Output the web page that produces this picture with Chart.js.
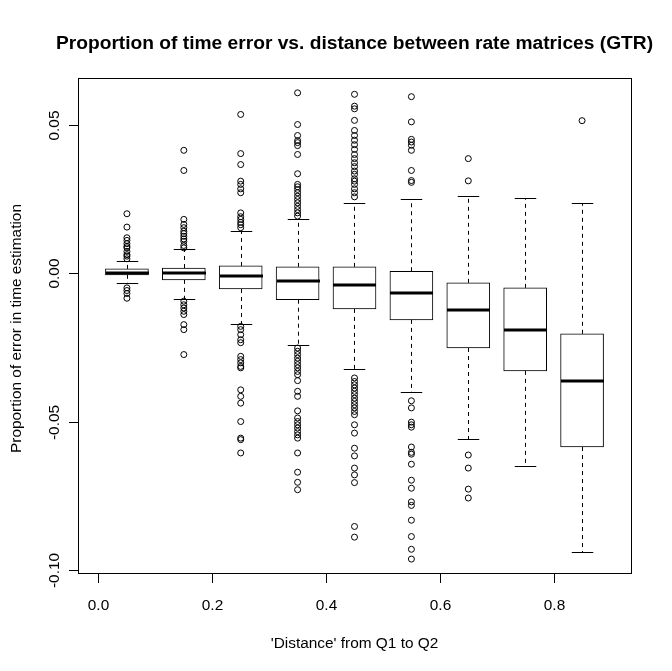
<!DOCTYPE html>
<html><head><meta charset="utf-8">
<script src="https://cdn.jsdelivr.net/npm/chart.js@4"></script>
<style>html,body{margin:0;padding:0;background:#fff}#wrap{width:672px;height:671px}</style>
</head><body><div id="wrap"><canvas id="c" width="672" height="671"></canvas></div>
<script>
const titleText = "Proportion of time error vs. distance between rate matrices (GTR)";
const xTitle = "'Distance' from Q1 to Q2";
const yTitle = "Proportion of error in time estimation";

const distances   = [0.05, 0.15, 0.25, 0.35, 0.45, 0.55, 0.65, 0.75, 0.85];
const q3          = [0.0015, 0.0018, 0.0025, 0.0022, 0.0022, 0.0007, -0.0032, -0.0049, -0.0204];
const medians     = [0.0001, 0.0002, -0.0009, -0.0025, -0.0039, -0.0066, -0.0123, -0.0192, -0.0363];
const q1          = [-0.0005, -0.0022, -0.0053, -0.0089, -0.0120, -0.0157, -0.0252, -0.0329, -0.0586];
const whiskerHigh = [0.0042, 0.0083, 0.0144, 0.0184, 0.0238, 0.0251, 0.0262, 0.0255, 0.0238];
const whiskerLow  = [-0.0031, -0.0086, -0.0171, -0.0242, -0.0323, -0.0400, -0.0559, -0.0650, -0.0941];

const outliers005 = [0.0201, 0.0156, 0.0120, 0.0111, 0.0100, 0.0091, 0.0086, 0.0074, 0.0063, 0.0058, 0.0049, -0.0049, -0.0058, -0.0068, -0.0084];
const outliers015 = [0.0415, 0.0347, 0.0182, 0.0165, 0.0154, 0.0142, 0.0134, 0.0125, 0.0116, 0.0108, 0.0094, 0.0086, -0.0094, -0.0106, -0.0117, -0.0128, -0.0139, -0.0173, -0.0190, -0.0274];
const outliers025 = [0.0536, 0.0404, 0.0367, 0.0311, 0.0300, 0.0285, 0.0272, 0.0204, 0.0191, 0.0182, 0.0172, 0.0164, 0.0154, -0.0179, -0.0190, -0.0207, -0.0224, -0.0234, -0.0280, -0.0291, -0.0302, -0.0314, -0.0319, -0.0393, -0.0415, -0.0438, -0.0500, -0.0556, -0.0561, -0.0606];
const outliers035 = [0.0609, 0.0502, 0.0465, 0.0448, 0.0441, 0.0431, 0.0401, 0.0336, 0.0300, 0.0292, 0.0283, 0.0272, 0.0260, 0.0249, 0.0238, 0.0226, 0.0215, 0.0204, 0.0193, -0.0252, -0.0263, -0.0274, -0.0286, -0.0297, -0.0308, -0.0319, -0.0331, -0.0342, -0.0362, -0.0398, -0.0415, -0.0464, -0.0488, -0.0500, -0.0511, -0.0522, -0.0534, -0.0545, -0.0556, -0.0606, -0.0671, -0.0705, -0.0730];
const outliers045 = [0.0604, 0.0564, 0.0555, 0.0516, 0.0482, 0.0465, 0.0449, 0.0434, 0.0418, 0.0401, 0.0387, 0.0373, 0.0360, 0.0345, 0.0334, 0.0319, 0.0311, 0.0300, 0.0285, 0.0272, 0.0258, -0.0353, -0.0365, -0.0376, -0.0387, -0.0398, -0.0409, -0.0421, -0.0432, -0.0443, -0.0454, -0.0466, -0.0477, -0.0511, -0.0539, -0.0590, -0.0616, -0.0657, -0.0680, -0.0706, -0.0854, -0.0890];
const outliers055 = [0.0596, 0.0511, 0.0452, 0.0443, 0.0432, 0.0415, 0.0347, 0.0313, 0.0307, -0.0430, -0.0454, -0.0502, -0.0511, -0.0519, -0.0586, -0.0604, -0.0610, -0.0644, -0.0698, -0.0725, -0.0771, -0.0783, -0.0833, -0.0888, -0.0931, -0.0964];
const outliers065 = [0.0387, 0.0312, -0.0613, -0.0657, -0.0728, -0.0758];
const outliers075 = [];
const outliers085 = [0.0515];
const outlierGroups = [outliers005, outliers015, outliers025, outliers035, outliers045, outliers055, outliers065, outliers075, outliers085];

const xTickValues = [0.0, 0.2, 0.4, 0.6, 0.8];
const xTickLabels = ["0.0", "0.2", "0.4", "0.6", "0.8"];
const yTickValues = [-0.10, -0.05, 0.00, 0.05];
const yTickLabels = ["-0.10", "-0.05", "0.00", "0.05"];

const FONT = "'Liberation Sans', Arial, sans-serif";
const BOX_PX = 43;

const boxData = distances.map((d, i) => ({x: d, y: [q1[i], q3[i]]}));
const outlierData = [];
outlierGroups.forEach((g, i) => g.forEach(v => outlierData.push({x: distances[i], y: v})));

const rPlugin = {
  id: 'rstyle',
  afterDatasetsDraw(chart) {
    const ctx = chart.ctx, a = chart.chartArea, xs = chart.scales.x, ys = chart.scales.y;
    const snap = v => Math.round(v) + 0.5;
    const line = (x1, y1, x2, y2) => { ctx.beginPath(); ctx.moveTo(x1, y1); ctx.lineTo(x2, y2); ctx.stroke(); };
    ctx.save();
    ctx.strokeStyle = '#000';
    ctx.fillStyle = '#000';
    distances.forEach((d, i) => {
      const cx = snap(xs.getPixelForValue(d));
      ctx.lineWidth = 1;
      ctx.setLineDash([4, 4]);
      line(cx, ys.getPixelForValue(q3[i]), cx, snap(ys.getPixelForValue(whiskerHigh[i])));
      line(cx, ys.getPixelForValue(q1[i]), cx, snap(ys.getPixelForValue(whiskerLow[i])));
      ctx.setLineDash([]);
      const sh = BOX_PX / 4;
      line(cx - sh, snap(ys.getPixelForValue(whiskerHigh[i])), cx + sh, snap(ys.getPixelForValue(whiskerHigh[i])));
      line(cx - sh, snap(ys.getPixelForValue(whiskerLow[i])), cx + sh, snap(ys.getPixelForValue(whiskerLow[i])));
      ctx.lineWidth = 3;
      const my = Math.round(ys.getPixelForValue(medians[i]));
      line(cx - BOX_PX / 2, my, cx + BOX_PX / 2, my);
    });
    ctx.lineWidth = 1;
    ctx.strokeRect(snap(a.left), snap(a.top), Math.round(a.right) - Math.round(a.left), Math.round(a.bottom) - Math.round(a.top));
    // x axis
    ctx.font = '15.4px ' + FONT;
    ctx.textAlign = 'center';
    ctx.textBaseline = 'alphabetic';
    const by = snap(a.bottom);
    xTickValues.forEach((v, i) => {
      const px = snap(xs.getPixelForValue(v));
      line(px, by, px, by + 9.5);
      ctx.fillText(xTickLabels[i], px, 610);
    });
    // y axis
    const lx = snap(a.left);
    yTickValues.forEach((v, i) => {
      const py = snap(ys.getPixelForValue(v));
      line(lx, py, lx - 9.5, py);
      ctx.save();
      ctx.translate(58.5, py);
      ctx.rotate(-Math.PI / 2);
      ctx.fillText(yTickLabels[i], 0, 0);
      ctx.restore();
    });
    // titles
    const cxp = (a.left + a.right) / 2;
    ctx.fillText(xTitle, cxp, 648);
    ctx.save();
    ctx.translate(21, (a.top + a.bottom) / 2 + 3);
    ctx.rotate(-Math.PI / 2);
    ctx.fillText(yTitle, 0, 0);
    ctx.restore();
    ctx.font = 'bold 19.2px ' + FONT;
    ctx.fillText(titleText, cxp, 49);
    ctx.restore();
  }
};

new Chart(document.getElementById('c'), {
  type: 'bar',
  data: {
    datasets: [
      {
        type: 'bar',
        data: boxData,
        backgroundColor: '#fff',
        borderColor: '#000',
        borderWidth: 1,
        borderSkipped: false,
        barThickness: BOX_PX,
        order: 2
      },
      {
        type: 'scatter',
        data: outlierData,
        pointStyle: 'circle',
        pointRadius: 3,
        pointBorderWidth: 1,
        borderColor: '#000',
        backgroundColor: 'rgba(0,0,0,0)',
        showLine: false,
        order: 1
      }
    ]
  },
  options: {
    responsive: false,
    devicePixelRatio: 1,
    animation: false,
    events: [],
    layout: {padding: {top: 78, right: 41, left: 0, bottom: 0}},
    plugins: {legend: {display: false}, title: {display: false}, tooltip: {enabled: false}},
    scales: {
      x: {
        type: 'linear', min: -0.036, max: 0.936, offset: false,
        grid: {display: false, offset: false}, border: {display: false}, ticks: {display: false},
        afterFit: s => { s.height = 98; }
      },
      y: {
        type: 'linear', min: -0.1011, max: 0.0659,
        grid: {display: false}, border: {display: false}, ticks: {display: false},
        afterFit: s => { s.width = 78; }
      }
    }
  },
  plugins: [rPlugin]
});
</script>
</body></html>
